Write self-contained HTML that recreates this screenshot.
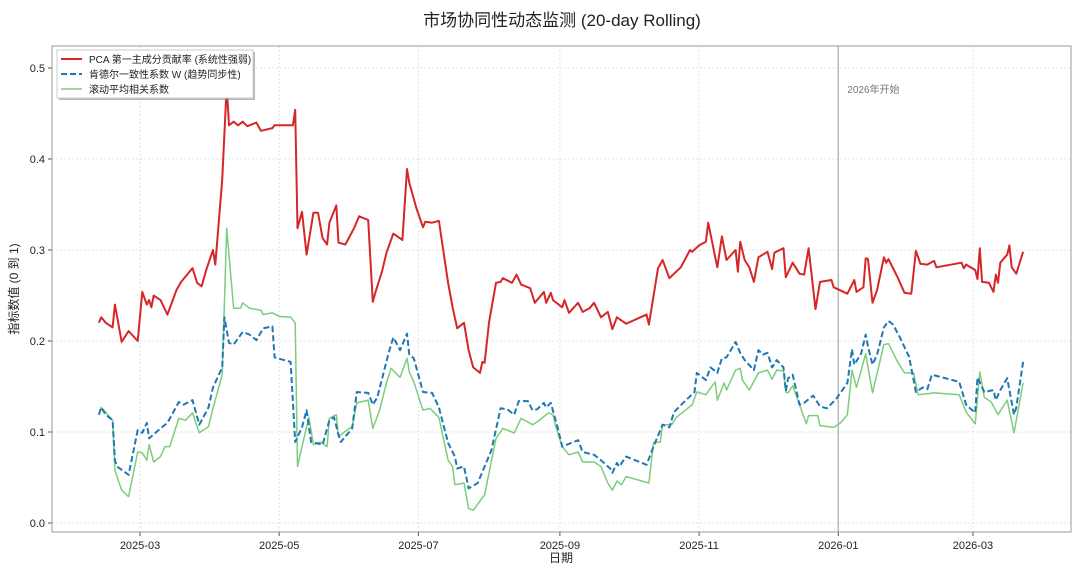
<!DOCTYPE html>
<html><head><meta charset="utf-8">
<style>
html,body{margin:0;padding:0;background:#fff;}
svg{display:block;font-family:"Liberation Sans","Noto Sans CJK SC",sans-serif;}
</style></head>
<body>
<svg id="chart" width="1080" height="576" viewBox="0 0 1080 576">
<text x="562" y="26" text-anchor="middle" font-size="17" fill="#222">市场协同性动态监测 (20-day Rolling)</text>
<g id="grid"></g>
<g id="axes"></g>
<g id="series"></g>
<rect x="52" y="46" width="1019" height="486" fill="none" stroke="#999" stroke-width="1"/>
<text x="18" y="289" text-anchor="middle" font-size="12" fill="#222" transform="rotate(-90 18 289)">指标数值 (0 到 1)</text>
<text x="561" y="562" text-anchor="middle" font-size="12" fill="#222">日期</text>
<g>
<rect x="59" y="52" width="196" height="48" fill="#888" opacity="0.6"/>
<rect x="57" y="50" width="196" height="48" fill="#fff" stroke="#ccc"/>
<g><line x1="61" y1="59" x2="82" y2="59" stroke="#d62728" stroke-width="2"/><text x="89" y="63" font-size="10" fill="#222">PCA 第一主成分贡献率 (系统性强弱)</text></g>
<g><line x1="61" y1="74" x2="82" y2="74" stroke="#1f77b4" stroke-width="2" stroke-dasharray="6,3"/><text x="89" y="78" font-size="10" fill="#222">肯德尔一致性系数 W (趋势同步性)</text></g>
<g><line x1="61" y1="89" x2="82" y2="89" stroke="#7ccd7c" stroke-width="1.5"/><text x="89" y="93" font-size="10" fill="#222">滚动平均相关系数</text></g>
</g>
</svg>
<script>
const yTicks=[0,0.1,0.2,0.3,0.4,0.5];
const yTickLabels=["0.0","0.1","0.2","0.3","0.4","0.5"];
const xTickDays=[59,120,181,243,304,365,424];
const xTickLabels=["2025-03","2025-05","2025-07","2025-09","2025-11","2026-01","2026-03"];
const markerDay=365;
const markerLabel="2026年开始";
const pcaDays=[41,42,44,47,48,49,51,54,58,60,62,63,64,65,68,71,75,77,82,84,86,88,91,92,95,97,98,100,102,104,106,110,112,117,118,126,127,128,130,132,135,137,139,141,142,145,146,149,153,155,159,161,162,165,167,170,174,176,177,180,183,184,187,190,194,196,198,201,203,205,208,209,210,212,215,217,218,222,224,226,230,232,236,237,239,240,244,245,247,251,253,256,258,261,264,266,268,272,281,282,286,288,291,293,296,300,301,304,307,308,312,314,316,320,321,322,324,326,328,330,334,336,337,341,342,345,348,350,352,355,357,362,363,369,372,373,376,377,378,380,382,385,386,387,391,394,397,399,401,404,407,408,419,420,421,425,426,427,428,431,433,434,435,436,439,440,441,443,446];
const pcaVals=[.220,.226,.220,.215,.240,.226,.199,.211,.200,.254,.240,.245,.237,.250,.245,.229,.256,.265,.280,.264,.260,.278,.300,.284,.377,.480,.437,.441,.437,.441,.436,.440,.431,.434,.437,.437,.454,.324,.342,.295,.341,.341,.313,.306,.330,.349,.308,.306,.325,.337,.333,.243,.252,.276,.297,.318,.311,.389,.374,.347,.325,.331,.330,.332,.264,.237,.214,.220,.190,.171,.165,.177,.176,.221,.264,.265,.269,.264,.273,.262,.258,.242,.254,.242,.253,.245,.237,.245,.231,.242,.232,.236,.242,.226,.232,.213,.226,.219,.229,.218,.280,.289,.269,.274,.281,.300,.298,.305,.309,.330,.281,.315,.289,.300,.276,.309,.289,.281,.265,.292,.298,.279,.297,.302,.270,.286,.274,.273,.302,.235,.265,.267,.259,.252,.267,.254,.259,.291,.290,.242,.256,.292,.286,.290,.270,.253,.252,.299,.285,.284,.288,.281,.286,.280,.284,.278,.268,.302,.265,.264,.254,.273,.264,.286,.295,.305,.281,.274,.298];
const kwDays=[41,42,44,47,48,49,54,58,60,62,63,68,71,76,78,82,85,89,91,95,96,98,100,104,107,110,113,117,118,125,127,130,132,134,139,142,144,146,147,152,154,159,161,163,168,170,173,176,177,179,183,187,190,194,197,198,201,203,207,209,213,217,220,223,225,229,231,233,236,237,239,242,244,247,251,253,258,261,265,266,268,269,272,281,284,288,291,293,297,302,303,307,309,312,314,316,320,322,324,328,330,332,334,336,338,341,342,343,345,348,350,352,354,357,360,364,369,371,372,375,377,378,380,382,385,387,389,392,396,399,402,404,406,418,421,425,426,429,433,434,436,439,442,443,446];
const kwVals=[.119,.127,.119,.113,.069,.062,.053,.102,.099,.110,.093,.104,.110,.133,.130,.135,.108,.127,.149,.171,.226,.198,.196,.210,.207,.201,.214,.216,.182,.177,.089,.105,.124,.089,.086,.113,.116,.097,.089,.104,.144,.143,.130,.138,.187,.204,.190,.208,.185,.181,.144,.143,.127,.088,.073,.060,.062,.038,.044,.056,.080,.126,.125,.119,.134,.134,.124,.125,.132,.127,.132,.105,.084,.087,.091,.078,.075,.069,.060,.055,.066,.062,.073,.064,.084,.108,.105,.122,.132,.144,.165,.157,.171,.165,.181,.182,.199,.187,.179,.168,.190,.185,.187,.171,.179,.171,.145,.159,.163,.130,.132,.136,.140,.128,.126,.136,.154,.191,.174,.186,.207,.194,.174,.185,.215,.222,.218,.204,.183,.144,.149,.147,.163,.155,.130,.121,.160,.144,.146,.135,.146,.159,.119,.127,.177];
const corrDays=[41,42,47,48,51,54,58,60,62,63,65,68,70,72,76,79,82,85,89,91,95,97,100,103,104,107,112,113,117,120,125,127,128,130,133,135,138,141,142,145,146,148,152,154,159,161,164,167,169,173,176,177,179,183,186,190,194,196,197,201,203,205,210,215,218,223,226,229,231,233,238,240,241,244,247,251,253,258,261,264,266,268,270,272,282,284,287,288,292,294,301,303,307,311,312,315,316,320,322,323,326,330,334,336,338,341,342,343,345,348,351,352,356,357,363,366,369,371,373,377,380,385,387,391,394,398,400,404,407,418,421,425,427,429,432,435,439,442,446];
const corrVals=[.119,.127,.113,.058,.036,.029,.078,.077,.069,.086,.067,.073,.084,.084,.115,.113,.121,.099,.106,.126,.163,.324,.236,.236,.242,.236,.234,.229,.231,.227,.226,.220,.062,.084,.116,.086,.089,.084,.115,.119,.095,.099,.106,.132,.135,.104,.124,.154,.170,.160,.181,.166,.155,.124,.126,.116,.069,.062,.042,.044,.016,.014,.031,.093,.104,.099,.115,.111,.108,.111,.121,.119,.108,.084,.075,.078,.067,.067,.062,.044,.036,.046,.042,.051,.044,.088,.089,.108,.108,.116,.130,.144,.141,.155,.135,.154,.146,.168,.170,.157,.146,.165,.168,.158,.168,.167,.144,.143,.151,.130,.109,.118,.118,.107,.105,.110,.119,.168,.149,.186,.143,.196,.197,.177,.165,.165,.141,.142,.143,.141,.122,.109,.166,.138,.133,.119,.135,.099,.154];

const NS="http://www.w3.org/2000/svg";
const X0=52,X1=1071,Y0=532,Y1=46;
const xScale=d=>140+(d-59)*2.282;
const yScale=v=>523-v*910;
function mk(tag,attrs,parent){const e=document.createElementNS(NS,tag);for(const k in attrs)e.setAttribute(k,attrs[k]);parent.appendChild(e);return e;}
const grid=document.getElementById('grid'),axes=document.getElementById('axes'),series=document.getElementById('series');
yTicks.forEach((t,i)=>{
  const y=yScale(t);
  const gl=mk('line',{x1:X0,x2:X1,y1:y,y2:y,stroke:'#ddd','stroke-width':0.8,'stroke-dasharray':'2,2'},grid);
  
  
  const tk=mk('line',{x1:X0-4,x2:X0,y1:y,y2:y,stroke:'#555'},axes);
  
  
  const tx=mk('text',{x:X0-7,y:y+4,'text-anchor':'end','font-size':11,fill:'#222'},axes);
  tx.textContent=yTickLabels[i];
  
  
});
xTickDays.forEach((d,i)=>{
  const x=xScale(d);
  const gl=mk('line',{x1:x,x2:x,y1:Y1,y2:Y0,stroke:'#ddd','stroke-width':0.8,'stroke-dasharray':'2,2'},grid);
  
  
  const tk=mk('line',{x1:x,x2:x,y1:Y0,y2:Y0+4,stroke:'#555'},axes);
  
  
  const tx=mk('text',{x:x,y:Y0+17,'text-anchor':'middle','font-size':11,fill:'#222'},axes);
  tx.textContent=xTickLabels[i];
  
  
});
const mx=xScale(markerDay);
const ml=mk('line',{x1:mx,x2:mx,y1:Y1,y2:Y0,stroke:'#aaa','stroke-width':1.5,opacity:0.8},grid);


const mt=mk('text',{x:mx+9,y:93,'font-size':10,fill:'#777'},grid);
mt.textContent=markerLabel;


function pts(days,vals){return days.map((d,i)=>xScale(d).toFixed(1)+','+yScale(vals[i]).toFixed(1)).join(' ');}
const lc=mk('polyline',{points:pts(corrDays,corrVals),fill:'none',stroke:'#7ccd7c','stroke-width':1.5,'stroke-linejoin':'round'},series);


const lk=mk('polyline',{points:pts(kwDays,kwVals),fill:'none',stroke:'#1f77b4','stroke-width':2,'stroke-dasharray':'6,3','stroke-linejoin':'round'},series);


const lp=mk('polyline',{points:pts(pcaDays,pcaVals),fill:'none',stroke:'#d62728','stroke-width':2,'stroke-linejoin':'round'},series);


</script>
</body></html>
